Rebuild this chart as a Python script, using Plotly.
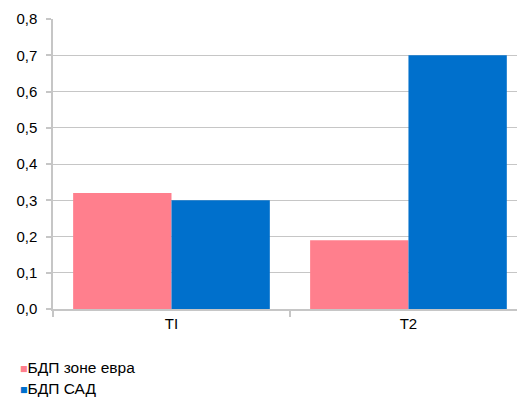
import plotly.graph_objects as go

# Quarterly GDP growth figures
categories = ["TI", "T2"]
eurozone_gdp = [0.32, 0.19]
usa_gdp = [0.30, 0.70]
series_names = ["БДП зоне евра", "БДП САД"]
y_ticks = [0.0, 0.1, 0.2, 0.3, 0.4, 0.5, 0.6, 0.7, 0.8]

PINK = "#FF7F8D"
BLUE = "#0070CC"
series_colors = [PINK, BLUE]
GRID = "#C6C6C6"
FONT = "Liberation Sans, Arial, sans-serif"

W, H = 517, 398
ML, MR, MT, MB = 53, 0, 19, 89
plot_w = W - ML - MR
plot_h = H - MT - MB

fig = go.Figure()
for name, vals, color in zip(series_names, [eurozone_gdp, usa_gdp], series_colors):
    fig.add_trace(go.Bar(x=categories, y=vals, name=name,
                         marker=dict(color=color, line=dict(width=0))))

# Legend as a compact list below the chart
legend_rows_px = [367, 388]
for name, color, ypx in zip(series_names, series_colors, legend_rows_px):
    fig.add_annotation(
        xref="paper", yref="paper",
        x=(18 - ML) / plot_w, y=(H - MB - ypx) / plot_h,
        xanchor="left", yanchor="middle", showarrow=False,
        text=f"<span style='color:{color};font-size:12.5px'>■</span>{name}",
        font=dict(size=15.5, family=FONT, color="#000000"),
    )

fig.update_layout(
    width=W, height=H,
    margin=dict(l=ML, r=MR, t=MT, b=MB),
    paper_bgcolor="white", plot_bgcolor="white",
    separators=", ",
    font=dict(family=FONT, size=15, color="#000000"),
    barmode="group", bargap=0.17, bargroupgap=0,
    showlegend=False,
)

fig.update_xaxes(
    type="category", range=[-0.5, 1.458], automargin=False,
    showline=True, linecolor=GRID, linewidth=1.5,
    showgrid=False, ticks="outside", tickson="boundaries",
    ticklen=6, tickcolor=GRID, tickwidth=1.5,
    tickfont=dict(size=15, family=FONT),
)
fig.update_yaxes(
    range=[0, 0.8], tickvals=y_ticks, tickformat=".1f", automargin=False,
    showline=True, linecolor=GRID, linewidth=1.5,
    showgrid=True, gridcolor=GRID, gridwidth=1.2,
    ticks="outside", ticklen=5, tickcolor=GRID, tickwidth=1.5,
    ticklabelstandoff=6,
    tickfont=dict(size=15, family=FONT), zeroline=False,
)

fig.write_html("out.html")
